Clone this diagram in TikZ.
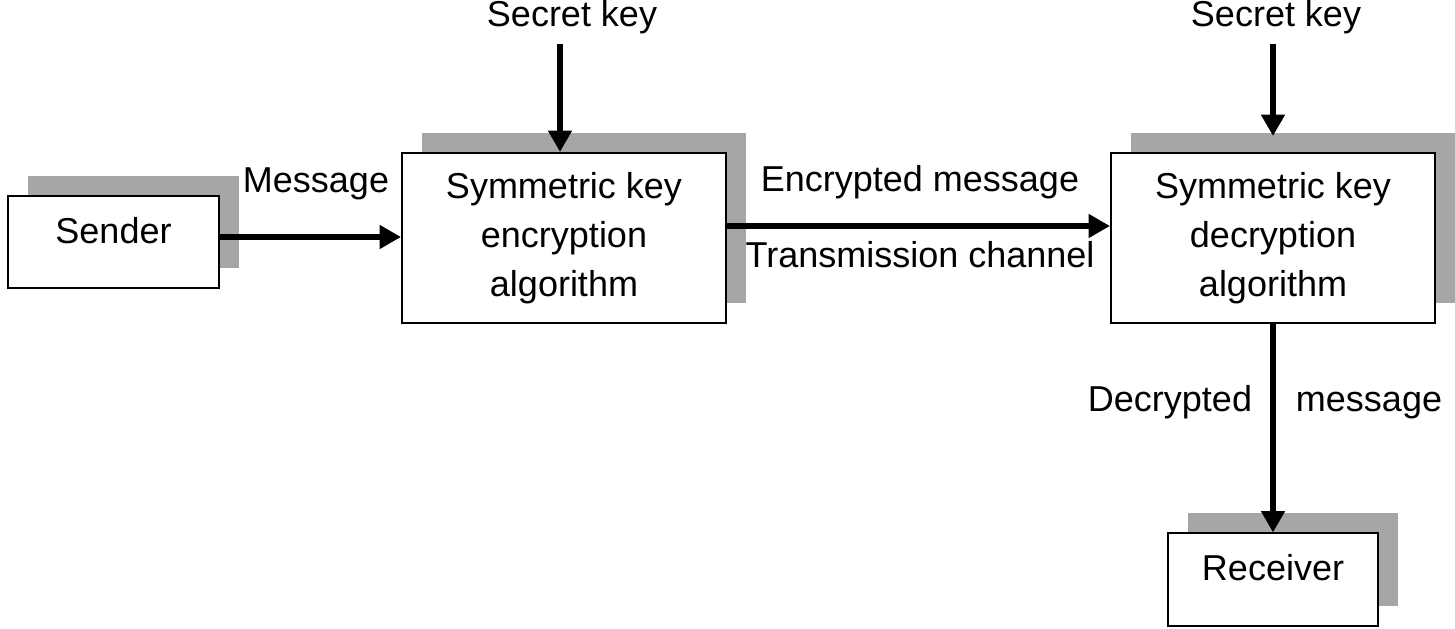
\documentclass[tikz,border=0pt]{standalone}
\usepackage{fontspec}
\setmainfont{Liberation Sans}
\usetikzlibrary{arrows.meta,shadows}
\definecolor{shadowgray}{RGB}{166,166,166}

\begin{document}
\begin{tikzpicture}[x=0.75pt, y=0.75pt,
  every node/.style={font=\fontsize{27pt}{36.75pt}\selectfont},
  box/.style={draw, line width=1.5pt, fill=white, align=center, inner sep=0pt,
    drop shadow={shadow xshift=15pt, shadow yshift=15pt, opacity=1, fill=shadowgray}},
  endbox/.style={box, minimum width=158pt, minimum height=69pt, text height=20pt, text depth=18pt},
  algbox/.style={box, minimum width=243pt, minimum height=127.5pt},
  lbl/.style={anchor=base, inner sep=0pt},
  arr/.style={-{Triangle[length=16pt, width=17pt]}, line width=5pt}]
  \useasboundingbox (0,0) rectangle (1455,628);

  % boxes
  \node[endbox] (sender) at (113.5,386) {Sender};
  \node[algbox] (enc) at (564,390) {Symmetric key\\encryption\\algorithm};
  \node[algbox] (dec) at (1273,390) {Symmetric key\\decryption\\algorithm};
  \node[endbox] (recv) at (1273,48.5) {Receiver};

  % labels
  \node[lbl] (msg) at (316,435) {Message};
  \node[lbl] (key1) at (572,601) {Secret key};
  \node[lbl] (key2) at (1276,601) {Secret key};
  \node[lbl] (encmsg) at (920,436) {Encrypted message};
  \node[lbl] (chan) at (920,360) {Transmission channel};
  \node[lbl] (decr) at (1170,216) {Decrypted};
  \node[lbl] (decm) at (1369,216) {message};

  % arrows
  \draw[arr] ([yshift=3.75pt]sender.east) -- ([yshift=0.75pt]enc.west);
  \draw[arr] ([yshift=9pt]enc.east) -- ([yshift=9pt]dec.west);
  \draw[arr, shorten <=6.75pt] ([xshift=-3pt]key1.south -| enc.north) -- ([xshift=-3pt]enc.north);
  \draw[arr, shorten <=6.75pt] (key2.south -| dec.north) -- ([yshift=12pt]dec.north);
  \draw[arr] (dec.south) -- (dec.south |- recv.north);
\end{tikzpicture}
\end{document}
